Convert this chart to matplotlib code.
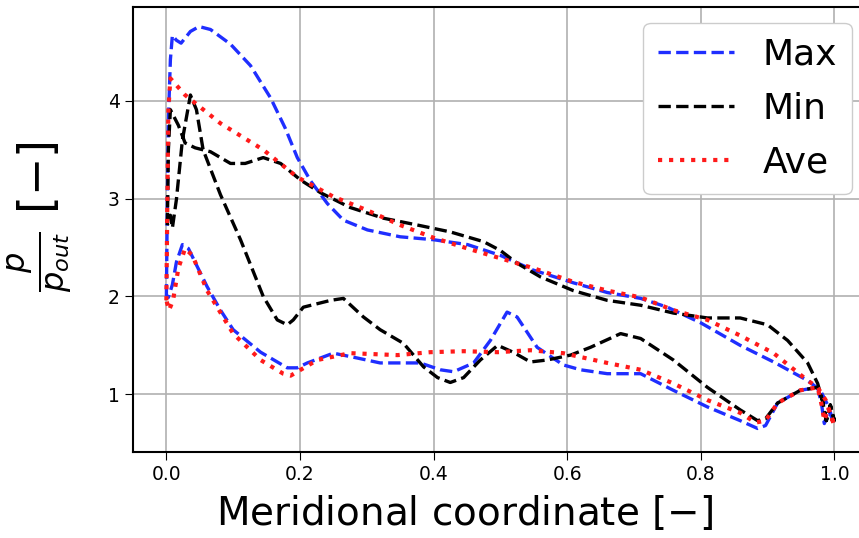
import matplotlib
matplotlib.use("Agg")
import matplotlib.pyplot as plt

# Max - suction side (upper) and pressure side (lower), LE -> TE
max_up_x = [0.0, 0.0015, 0.003, 0.006, 0.009, 0.015, 0.022, 0.036, 0.049, 0.066, 0.096, 0.126,
            0.156, 0.178, 0.196, 0.216, 0.241, 0.265, 0.301, 0.350, 0.400, 0.451, 0.500, 0.549,
            0.609, 0.660, 0.710, 0.750, 0.800, 0.859, 0.909, 0.960, 0.979, 0.990, 1.0]
max_up_y = [2.00, 2.99, 3.80, 4.42, 4.67, 4.62, 4.59, 4.71, 4.76, 4.73, 4.58, 4.36,
            4.03, 3.72, 3.42, 3.18, 2.95, 2.78, 2.68, 2.61, 2.58, 2.53, 2.42, 2.27,
            2.14, 2.04, 1.98, 1.89, 1.73, 1.50, 1.33, 1.14, 1.04, 0.89, 0.70]
max_lo_x = [0.0, 0.003, 0.009, 0.015, 0.024, 0.033, 0.043, 0.061, 0.081, 0.100, 0.141, 0.181,
            0.196, 0.211, 0.250, 0.286, 0.320, 0.380, 0.410, 0.430, 0.460, 0.485, 0.510, 0.525,
            0.555, 0.594, 0.620, 0.660, 0.710, 0.759, 0.810, 0.859, 0.885, 0.897, 0.915, 0.949,
            0.975, 0.981, 0.985, 0.991, 1.0]
max_lo_y = [2.00, 1.99, 2.12, 2.35, 2.53, 2.49, 2.35, 2.10, 1.86, 1.66, 1.43, 1.27,
            1.27, 1.32, 1.42, 1.37, 1.32, 1.32, 1.25, 1.23, 1.32, 1.55, 1.84, 1.79,
            1.48, 1.30, 1.25, 1.21, 1.21, 1.04, 0.87, 0.73, 0.65, 0.68, 0.91, 1.04,
            1.07, 0.89, 0.70, 0.84, 0.70]

# Min
min_up_x = [0.0015, 0.003, 0.006, 0.018, 0.028, 0.043, 0.066, 0.096, 0.118, 0.145, 0.171, 0.201,
            0.231, 0.275, 0.325, 0.376, 0.425, 0.475, 0.500, 0.525, 0.560, 0.609, 0.660, 0.710,
            0.759, 0.810, 0.859, 0.900, 0.930, 0.960, 0.975, 0.982, 0.988, 0.994, 1.0]
min_up_y = [2.73, 3.50, 3.91, 3.75, 3.57, 3.52, 3.48, 3.36, 3.36, 3.42, 3.36, 3.19,
            3.06, 2.91, 2.80, 2.73, 2.66, 2.56, 2.47, 2.34, 2.20, 2.06, 1.96, 1.91,
            1.83, 1.78, 1.78, 1.71, 1.55, 1.32, 1.11, 0.94, 0.73, 0.89, 0.73]
min_lo_x = [0.0015, 0.006, 0.009, 0.015, 0.024, 0.036, 0.045, 0.055, 0.081, 0.111, 0.145, 0.166,
            0.181, 0.190, 0.205, 0.246, 0.265, 0.295, 0.320, 0.355, 0.385, 0.406, 0.425, 0.445,
            0.470, 0.496, 0.519, 0.545, 0.570, 0.605, 0.635, 0.680, 0.710, 0.759, 0.810, 0.859,
            0.885, 0.897, 0.915, 0.949, 0.975, 0.982, 0.988, 0.994, 1.0]
min_lo_y = [2.73, 2.83, 2.70, 2.99, 3.60, 4.06, 3.91, 3.50, 3.04, 2.58, 2.00, 1.76,
            1.71, 1.76, 1.89, 1.96, 1.98, 1.79, 1.66, 1.52, 1.28, 1.17, 1.12, 1.17,
            1.35, 1.50, 1.43, 1.33, 1.35, 1.40, 1.48, 1.62, 1.57, 1.35, 1.07, 0.84,
            0.73, 0.75, 0.91, 1.04, 1.07, 0.94, 0.73, 0.89, 0.73]

# Ave
ave_up_x = [0.0, 0.0015, 0.003, 0.006, 0.028, 0.081, 0.145, 0.196, 0.250, 0.301, 0.350, 0.400,
            0.451, 0.500, 0.549, 0.609, 0.660, 0.710, 0.759, 0.810, 0.859, 0.909, 0.960, 0.975,
            0.987, 1.0]
ave_up_y = [1.96, 2.99, 3.91, 4.23, 4.06, 3.77, 3.50, 3.22, 3.02, 2.88, 2.73, 2.60,
            2.49, 2.39, 2.29, 2.15, 2.06, 1.99, 1.86, 1.76, 1.60, 1.42, 1.14, 1.07,
            0.94, 0.68]
ave_lo_x = [0.0, 0.004, 0.010, 0.018, 0.028, 0.039, 0.061, 0.100, 0.141, 0.175, 0.186, 0.201,
            0.226, 0.275, 0.346, 0.395, 0.445, 0.496, 0.545, 0.594, 0.660, 0.710, 0.759, 0.810,
            0.859, 0.882, 0.897, 0.915, 0.949, 0.975, 0.981, 0.985, 0.991, 1.0]
ave_lo_y = [1.96, 1.86, 1.96, 2.29, 2.49, 2.42, 2.06, 1.62, 1.35, 1.21, 1.19, 1.25,
            1.35, 1.42, 1.40, 1.43, 1.44, 1.43, 1.45, 1.42, 1.32, 1.25, 1.11, 0.94,
            0.81, 0.71, 0.73, 0.91, 1.04, 1.07, 0.89, 0.73, 0.86, 0.68]


def loop(up_x, up_y, lo_x, lo_y):
    # closed curve: upper surface LE->TE, then lower surface TE->LE
    return up_x + lo_x[::-1], up_y + lo_y[::-1]


fig = plt.figure(figsize=(8.59, 5.38), dpi=100)
ax = fig.add_axes([0.1548, 0.16, 0.8554, 0.827])

x, y = loop(max_up_x, max_up_y, max_lo_x, max_lo_y)
ax.plot(x, y, "--", color="#1f2eff", lw=2.4, label="Max")
x, y = loop(min_up_x, min_up_y, min_lo_x, min_lo_y)
ax.plot(x, y, "--", color="black", lw=2.4, label="Min")
x, y = loop(ave_up_x, ave_up_y, ave_lo_x, ave_lo_y)
ax.plot(x, y, ":", color="#ff1a1a", lw=3, label="Ave")

ax.set_xlim(-0.05, 1.05)
ax.set_ylim(0.41, 4.96)
ax.set_yticks([1, 2, 3, 4])
ax.set_xticks([0.0, 0.2, 0.4, 0.6, 0.8, 1.0])
ax.tick_params(labelsize=13.5, length=6)
ax.grid(True, color="#b0b0b0", lw=1.2)
for s in ax.spines.values():
    s.set_linewidth(1.5)

ax.set_xlabel("Meridional coordinate [$-$]", fontsize=28)
ax.xaxis.set_label_coords(0.451, -0.095)
ax.set_ylabel(r"$\frac{p}{p_{out}}$ [$-$]", fontsize=33)
ax.yaxis.set_label_coords(-0.08, 0.53)

ax.legend(loc="upper right", fontsize=26, handlelength=2.1, framealpha=1,
          borderaxespad=0.45, labelspacing=0.55)

fig.savefig("out.png", dpi=100)
